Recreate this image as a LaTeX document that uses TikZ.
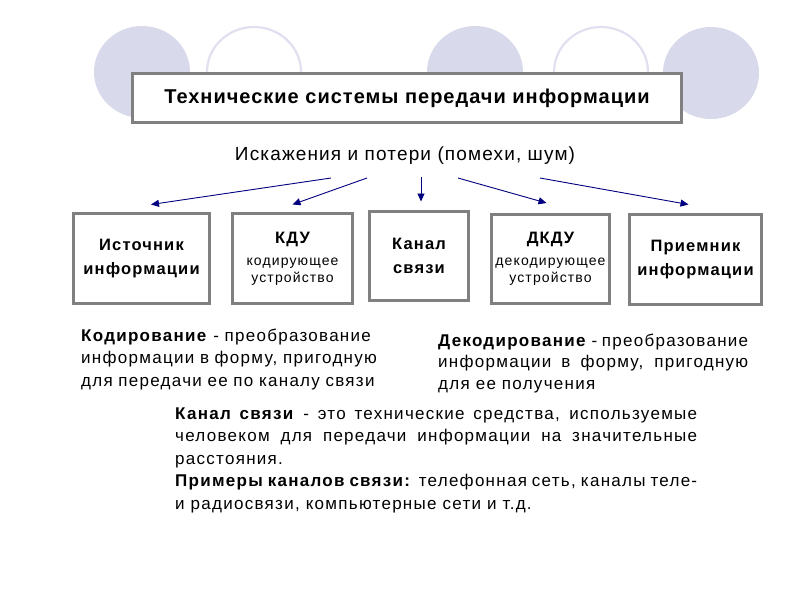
\documentclass[tikz,border=0pt]{standalone}
\usepackage{fontspec}
\setmainfont{Liberation Sans}
\usetikzlibrary{arrows.meta,positioning}
\definecolor{discfill}{RGB}{217,217,236}
\definecolor{ringline}{RGB}{224,224,240}
\definecolor{framegray}{RGB}{128,128,128}
\definecolor{noisenavy}{RGB}{0,0,128}
\newcommand{\subline}[1]{{\fontsize{14}{17}\selectfont\mdseries\addfontfeature{LetterSpace=8}#1}}

\begin{document}
\begin{tikzpicture}[x=1pt,y=-1pt,
  disc/.style={fill=discfill},
  ring/.style={draw=ringline,line width=2.2pt},
  frame/.style={draw=framegray,line width=3pt,fill=white,inner sep=2pt,align=center},
  boxlabel/.style={frame,font=\fontsize{16.5}{24}\selectfont\bfseries\addfontfeature{LetterSpace=7}},
  noisearrow/.style={draw=noisenavy,line width=0.9pt,-{Triangle[length=8pt,width=7pt]}},
  defn/.style={inner sep=0pt,anchor=base west,
    font=\fontsize{17}{22.5}\selectfont\addfontfeature{LetterSpace=7.5}}
]
\useasboundingbox (0,0) rectangle (800,600);
\fill[white] (0,0) rectangle (800,600);

% background circles
\fill[disc] (142,72) ellipse [x radius=48pt,y radius=46pt];
\draw[ring] (254,72) ellipse [x radius=47pt,y radius=45pt];
\fill[disc] (475,72) ellipse [x radius=48pt,y radius=46pt];
\draw[ring] (601,72) ellipse [x radius=47pt,y radius=45pt];
\fill[disc] (711,73) ellipse [x radius=48pt,y radius=46pt];

% title
\node[frame,minimum width=549pt,minimum height=49pt,
  font=\fontsize{20}{24}\selectfont\bfseries\addfontfeature{LetterSpace=5}] (title) at (407,98)
  {Технические системы передачи информации};

\node[font=\fontsize{19}{22}\selectfont\addfontfeature{LetterSpace=6}] (noise) at (405,156)
  {Искажения и потери (помехи, шум)};

% blocks of the chain
\node[boxlabel,minimum width=136pt,minimum height=90pt] (src) at (141.5,258.5)
  {Источник\\информации};
\node[boxlabel,minimum width=120pt,minimum height=90pt] (coder) at (292.5,258.5)
  {КДУ\\[-2pt]\subline{кодирующее}\\[-7pt]\subline{устройство}};
\node[boxlabel,minimum width=99pt,minimum height=89pt] (chan) at (419,256)
  {Канал\\связи};
\node[boxlabel,minimum width=118pt,minimum height=89pt] (decoder) at (550.5,259)
  {ДКДУ\\[-2pt]\subline{декодирующее}\\[-7pt]\subline{устройство}};
\node[boxlabel,minimum width=132pt,minimum height=90pt] (sink) at (695.5,259.5)
  {Приемник\\информации};

% noise arrows
\coordinate (n1) at (331,178);
\coordinate (n2) at (367,178);
\coordinate (n3) at (421,177);
\coordinate (n4) at (458,178);
\coordinate (n5) at (540,178);
\draw[noisearrow] (n1) -- ([xshift=9.5pt,yshift=7.5pt]src.north);
\draw[noisearrow] (n2) -- ([yshift=7.5pt]coder.north);
\draw[noisearrow] (n3) -- ([xshift=2pt,yshift=8.5pt]chan.north);
\draw[noisearrow] (n4) -- ([xshift=-4pt,yshift=10pt]decoder.north);
\draw[noisearrow] (n5) -- ([xshift=-7pt,yshift=8.5pt]sink.north);

% definitions
\node[defn,text width=310pt,align=left] (coding) at (81,341)
  {\textbf{Кодирование} - преобразование\\информации в форму, пригодную\\для передачи ее по каналу связи};
\node[defn,text width=310pt,align=justify,
  font=\fontsize{17}{21.5}\selectfont\addfontfeature{LetterSpace=7.5}] (decoding) at (438,346)
  {\textbf{Декодирование} - преобразование\linebreak
   информации в форму, пригодную\linebreak
   для ее получения};
\node[defn,text width=522pt,align=justify] (chandef) at (175,419)
  {\textbf{Канал связи} - это технические средства, используемые\linebreak
   человеком для передачи информации на значительные\linebreak
   расстояния.\newline
   \textbf{Примеры каналов связи:} телефонная сеть, каналы теле-\linebreak
   и радиосвязи, компьютерные сети и т.д.};
\end{tikzpicture}
\end{document}
